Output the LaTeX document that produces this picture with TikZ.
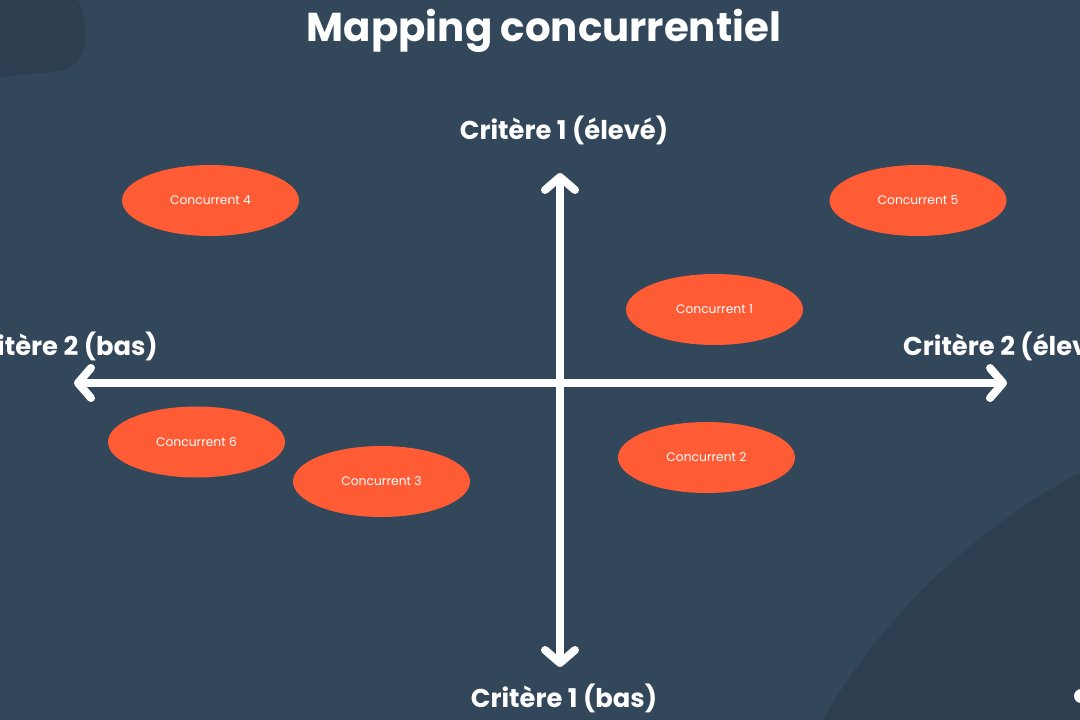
\documentclass[tikz,border=0pt]{standalone}
\usepackage{fontspec}
\setmainfont{Poppins}
\usetikzlibrary{arrows.meta,shapes.geometric}
\definecolor{bgblue}{HTML}{33475B}
\definecolor{darkblob}{HTML}{2D3E50}
\definecolor{hsorange}{HTML}{FF5C35}
\begin{document}
\begin{tikzpicture}[x=1pt,y=-1pt,
  comp/.style={ellipse, fill=hsorange, minimum width=177pt, minimum height=71pt, inner sep=0pt,
    text=white, font=\fontsize{12.3}{14}\selectfont},
  axislabel/.style={text=white, font=\fontsize{25.8}{30}\selectfont\bfseries, inner sep=0pt},
  axisline/.style={white, line width=8pt,
    {Straight Barb[round,length=13pt,width=30pt]}-{Straight Barb[round,length=13pt,width=30pt]}}
]
\useasboundingbox (0,0) rectangle (1080,720);
\fill[bgblue] (0,0) rectangle (1080,720);
\begin{scope}
\clip (0,0) rectangle (1080,720);
\fill[darkblob] (0,0) -- (78,0) .. controls (88,22) and (90,52) .. (73,65)
   .. controls (60,75) and (30,72) .. (0,78) -- cycle;
\fill[darkblob] (1385,1048) circle[radius=651];
\fill[white] (1081,696) circle[radius=7];
\end{scope}

\node[text=white, font=\fontsize{40.3}{46}\selectfont\bfseries, inner sep=0pt] (title) at (544,31) {Mapping concurrentiel};

\coordinate (vt) at (560,173);
\coordinate (vb) at (560,667);
\coordinate (hl) at (74,383);
\coordinate (hr) at (1007,383);
\draw[axisline] (vt) -- (vb);
\draw[axisline] (hl) -- (hr);

\node[axislabel] (ytop) at (564,130) {Critère 1 (élevé)};
\node[axislabel] (ybot) at (564,698) {Critère 1 (bas)};
\node[axislabel, anchor=east] (xleft) at (158,346) {Critère 2 (bas)};
\node[axislabel, anchor=west] (xright) at (903,346) {Critère 2 (élevé)};

\node[comp] (c4) at (210.5,200.5) {Concurrent 4};
\node[comp] (c5) at (918,200.5) {Concurrent 5};
\node[comp] (c1) at (714.5,309.5) {Concurrent 1};
\node[comp] (c6) at (196.5,442) {Concurrent 6};
\node[comp] (c3) at (381.5,481.5) {Concurrent 3};
\node[comp] (c2) at (706.5,457.5) {Concurrent 2};
\end{tikzpicture}
\end{document}
